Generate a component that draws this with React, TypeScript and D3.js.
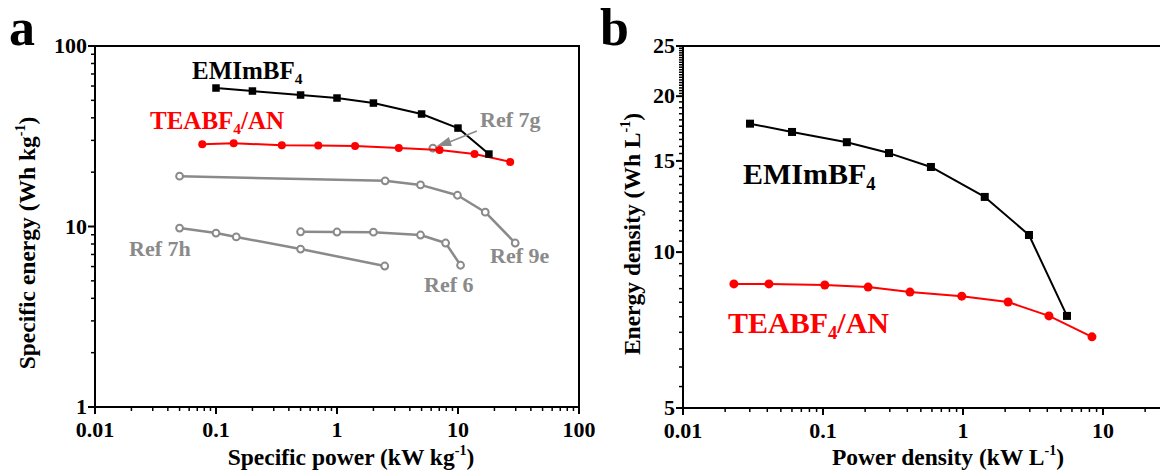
import React from "react";
import * as d3 from "d3";

// ---------- Panel a: specific power (kW kg^-1) vs specific energy (Wh kg^-1) ----------
const emimPowerA = [0.1, 0.2, 0.5, 1, 2, 5, 10, 18];
const emimEnergyA = [58.5, 56.3, 53.5, 51.5, 48.3, 42, 35.1, 25.2];
const teaPowerA = [0.077, 0.14, 0.35, 0.7, 1.41, 3.24, 7.04, 13.7, 27];
const teaEnergyA = [28.6, 28.9, 28.2, 28.1, 27.9, 27.2, 26.5, 25.2, 22.8];
const ref7gPower = [6.2];
const ref7gEnergy = [27.2];
const ref9ePower = [0.05, 2.5, 4.9, 9.9, 16.8, 29.7];
const ref9eEnergy = [19.0, 17.9, 17.0, 14.9, 12.0, 8.1];
const ref6Power = [0.5, 1, 2, 4.9, 7.9, 10.5];
const ref6Energy = [9.35, 9.32, 9.3, 8.97, 8.1, 6.1];
const ref7hPower = [0.05, 0.1, 0.147, 0.5, 2.48];
const ref7hEnergy = [9.8, 9.2, 8.75, 7.5, 6.04];

const xTicksA = [0.01, 0.1, 1, 10, 100];
const xTickLabelsA = ["0.01", "0.1", "1", "10", "100"];
const yTicksA = [1, 10, 100];
const yTickLabelsA = ["1", "10", "100"];

// ---------- Panel b: power density (kW L^-1) vs energy density (Wh L^-1) ----------
const emimPowerB = [0.0301, 0.0601, 0.148, 0.296, 0.59, 1.43, 2.96, 5.53];
const emimEnergyB = [17.7, 17.06, 16.3, 15.53, 14.6, 12.78, 10.79, 7.53];
const teaPowerB = [0.0231, 0.0411, 0.103, 0.21, 0.418, 0.98, 2.1, 4.11, 8.34];
const teaEnergyB = [8.68, 8.68, 8.64, 8.56, 8.37, 8.22, 8.01, 7.53, 6.86];

const xTicksB = [0.01, 0.1, 1, 10];
const xTickLabelsB = ["0.01", "0.1", "1", "10"];
const yTicksB = [5, 10, 15, 20, 25];
const yTickLabelsB = ["5", "10", "15", "20", "25"];

const FONT = '"Liberation Serif", "Times New Roman", Times, serif';
const BLACK = "#000000";
const RED = "#ff0000";
const GREY = "#8a8a8a";

const W = 1160;
const H = 472;

// scales
const xA = d3.scaleLog().domain([0.01, 100]).range([95, 579]);
const yA = d3.scaleLog().domain([1, 100]).range([407, 46]);
const xB = d3.scaleLog().domain([0.01, 10]).range([683, 1103]);
const yB = d3.scaleLog().domain([5, 25]).range([408, 46]);

type Pt = [number, number];
const zip = (xs: number[], ys: number[]): Pt[] => xs.map((x, i) => [x, ys[i]]);

function minorLogTicks(lo: number, hi: number): number[] {
  const out: number[] = [];
  for (let e = Math.floor(Math.log10(lo)); e <= Math.ceil(Math.log10(hi)); e++) {
    for (let m = 2; m <= 9; m++) {
      const v = m * Math.pow(10, e);
      if (v > lo && v < hi) out.push(v);
    }
  }
  return out;
}

// subscript "4" followed by text back on the baseline
const Sub4 = ({ size, rest }: { size: number; rest?: string }) => (
  <>
    <tspan fontSize={size * 0.62} dy={size * 0.2}>4</tspan>
    {rest ? <tspan dy={-size * 0.2}>{rest}</tspan> : null}
  </>
);

// "(… unit^-1)" suffix
const Sup = ({ size }: { size: number }) => (
  <>
    <tspan fontSize={size * 0.6} dy={-size * 0.42}>-1</tspan>
    <tspan dy={size * 0.42}>)</tspan>
  </>
);

function Series({
  pts,
  sx,
  sy,
  color,
  width,
  marker,
  size,
}: {
  pts: Pt[];
  sx: d3.ScaleLogarithmic<number, number>;
  sy: d3.ScaleLogarithmic<number, number>;
  color: string;
  width: number;
  marker: "square" | "circle" | "open";
  size: number;
}) {
  const line = d3
    .line<Pt>()
    .x((d) => sx(d[0]))
    .y((d) => sy(d[1]));
  return (
    <g>
      {pts.length > 1 && (
        <path d={line(pts) || ""} fill="none" stroke={color} strokeWidth={width} strokeLinejoin="round" />
      )}
      {pts.map((d, i) => {
        const cx = sx(d[0]);
        const cy = sy(d[1]);
        if (marker === "square")
          return <rect key={i} x={cx - size / 2} y={cy - size / 2} width={size} height={size} fill={color} />;
        if (marker === "circle") return <circle key={i} cx={cx} cy={cy} r={size} fill={color} />;
        return <circle key={i} cx={cx} cy={cy} r={size} fill="#ffffff" stroke={color} strokeWidth={2} />;
      })}
    </g>
  );
}

function XAxis({
  sx,
  y,
  ticks,
  labels,
  minor,
  x1,
}: {
  sx: d3.ScaleLogarithmic<number, number>;
  y: number;
  ticks: number[];
  labels: string[];
  minor: number[];
  x1: number;
}) {
  return (
    <g>
      <line x1={sx(ticks[0]) - 1} x2={x1} y1={y} y2={y} stroke={BLACK} strokeWidth={2} />
      {ticks.map((t, i) => (
        <g key={i}>
          <line x1={sx(t)} x2={sx(t)} y1={y} y2={y + 7} stroke={BLACK} strokeWidth={2} />
          <text x={sx(t)} y={y + 30} textAnchor="middle" fontFamily={FONT} fontWeight="bold" fontSize={22}>
            {labels[i]}
          </text>
        </g>
      ))}
      {minor.map((t, i) => (
        <line key={i} x1={sx(t)} x2={sx(t)} y1={y} y2={y + 4} stroke={BLACK} strokeWidth={1.5} />
      ))}
    </g>
  );
}

function YAxis({
  sy,
  x,
  ticks,
  labels,
  minor,
}: {
  sy: d3.ScaleLogarithmic<number, number>;
  x: number;
  ticks: number[];
  labels: string[];
  minor: number[];
}) {
  const [r0, r1] = sy.range();
  return (
    <g>
      <line x1={x} x2={x} y1={r0 + 1} y2={r1 - 1} stroke={BLACK} strokeWidth={2} />
      {ticks.map((t, i) => (
        <g key={i}>
          <line x1={x - 7} x2={x} y1={sy(t)} y2={sy(t)} stroke={BLACK} strokeWidth={2} />
          <text x={x - 8} y={sy(t) + 7} textAnchor="end" fontFamily={FONT} fontWeight="bold" fontSize={22}>
            {labels[i]}
          </text>
        </g>
      ))}
      {minor.map((t, i) => (
        <line key={i} x1={x - 4} x2={x} y1={sy(t)} y2={sy(t)} stroke={BLACK} strokeWidth={1.5} />
      ))}
    </g>
  );
}

export default function App() {
  // minor ticks
  const xMinorA = minorLogTicks(0.01, 100);
  const yMinorA = minorLogTicks(1, 100);
  const xMinorB = minorLogTicks(0.01, 30);
  const yMinorB: number[] = [];
  for (let v = 5.5; v < 20; v += 0.5) if (v % 5 !== 0) yMinorB.push(v);
  for (let v = 20.25; v < 25; v += 0.25) yMinorB.push(v);

  const [ax0, ax1] = xA.range();
  const [ayb, ayt] = yA.range();
  const [bx0] = xB.range();
  const [byb, byt] = yB.range();

  // arrow pointing at the Ref 7g point
  const g7x = xA(ref7gPower[0]);
  const g7y = yA(ref7gEnergy[0]);

  const TITLE = 23.5;

  return (
    <svg
      width={W}
      height={H}
      viewBox={`0 0 ${W} ${H}`}
      style={{ position: "absolute", left: 0, top: 0, background: "#ffffff" }}
    >
      <rect x={0} y={0} width={W} height={H} fill="#ffffff" />

      {/* ================= panel a ================= */}
      <text x={9} y={45} fontFamily={FONT} fontWeight="bold" fontSize={52}>a</text>

      {/* frame */}
      <line x1={ax0} x2={ax1 + 1} y1={ayt} y2={ayt} stroke={BLACK} strokeWidth={2} />
      <line x1={ax1} x2={ax1} y1={ayt} y2={ayb} stroke={BLACK} strokeWidth={2} />
      <XAxis sx={xA} y={ayb} ticks={xTicksA} labels={xTickLabelsA} minor={xMinorA} x1={ax1 + 1} />
      <YAxis sy={yA} x={ax0} ticks={yTicksA} labels={yTickLabelsA} minor={yMinorA} />

      <text x={351} y={465} textAnchor="middle" fontFamily={FONT} fontWeight="bold" fontSize={TITLE}>
        Specific power (kW kg<Sup size={TITLE} />
      </text>
      <text
        transform={`translate(35, 243) rotate(-90)`}
        textAnchor="middle"
        fontFamily={FONT}
        fontWeight="bold"
        fontSize={TITLE}
      >
        Specific energy (Wh kg<Sup size={TITLE} />
      </text>

      {/* reference data */}
      <Series pts={zip(ref9ePower, ref9eEnergy)} sx={xA} sy={yA} color={GREY} width={2.5} marker="open" size={3.4} />
      <Series pts={zip(ref6Power, ref6Energy)} sx={xA} sy={yA} color={GREY} width={2.5} marker="open" size={3.4} />
      <Series pts={zip(ref7hPower, ref7hEnergy)} sx={xA} sy={yA} color={GREY} width={2.5} marker="open" size={3.4} />
      <Series pts={zip(ref7gPower, ref7gEnergy)} sx={xA} sy={yA} color={GREY} width={2.5} marker="open" size={3.4} />

      {/* this work */}
      <Series pts={zip(teaPowerA, teaEnergyA)} sx={xA} sy={yA} color={RED} width={2} marker="circle" size={4} />
      <Series pts={zip(emimPowerA, emimEnergyA)} sx={xA} sy={yA} color={BLACK} width={2} marker="square" size={7.5} />

      {/* arrow to Ref 7g */}
      <line x1={g7x + 44} y1={g7y - 17} x2={g7x + 14} y2={g7y - 5} stroke={GREY} strokeWidth={1.5} />
      <path d={`M${g7x + 4},${g7y - 2} L${g7x + 16},${g7y - 11} L${g7x + 19},${g7y - 2} Z`} fill={GREY} />

      <text x={192} y={79} fontFamily={FONT} fontWeight="bold" fontSize={25} fill={BLACK}>
        EMImBF<Sub4 size={25} />
      </text>
      <text x={150} y={129} fontFamily={FONT} fontWeight="bold" fontSize={25} fill={RED}>
        TEABF<Sub4 size={25} rest="/AN" />
      </text>
      <text x={480} y={127} fontFamily={FONT} fontWeight="bold" fontSize={22} fill={GREY}>Ref 7g</text>
      <text x={129} y={256} fontFamily={FONT} fontWeight="bold" fontSize={22} fill={GREY}>Ref 7h</text>
      <text x={424} y={292} fontFamily={FONT} fontWeight="bold" fontSize={22} fill={GREY}>Ref 6</text>
      <text x={490} y={263} fontFamily={FONT} fontWeight="bold" fontSize={22} fill={GREY}>Ref 9e</text>

      {/* ================= panel b ================= */}
      <text x={600} y={45} fontFamily={FONT} fontWeight="bold" fontSize={52}>b</text>

      <line x1={bx0} x2={W} y1={byt} y2={byt} stroke={BLACK} strokeWidth={2} />
      <XAxis sx={xB} y={byb} ticks={xTicksB} labels={xTickLabelsB} minor={xMinorB} x1={W} />
      <YAxis sy={yB} x={bx0} ticks={yTicksB} labels={yTickLabelsB} minor={yMinorB} />

      <text x={948} y={465} textAnchor="middle" fontFamily={FONT} fontWeight="bold" fontSize={TITLE}>
        Power density (kW L<Sup size={TITLE} />
      </text>
      <text
        transform={`translate(640, 234) rotate(-90)`}
        textAnchor="middle"
        fontFamily={FONT}
        fontWeight="bold"
        fontSize={TITLE}
      >
        Energy density (Wh L<Sup size={TITLE} />
      </text>

      <Series pts={zip(emimPowerB, emimEnergyB)} sx={xB} sy={yB} color={BLACK} width={2} marker="square" size={8} />
      <Series pts={zip(teaPowerB, teaEnergyB)} sx={xB} sy={yB} color={RED} width={2} marker="circle" size={4.5} />

      <text x={743} y={184} fontFamily={FONT} fontWeight="bold" fontSize={30} fill={BLACK}>
        EMImBF<Sub4 size={30} />
      </text>
      <text x={728} y={333} fontFamily={FONT} fontWeight="bold" fontSize={30} fill={RED}>
        TEABF<Sub4 size={30} rest="/AN" />
      </text>
    </svg>
  );
}
